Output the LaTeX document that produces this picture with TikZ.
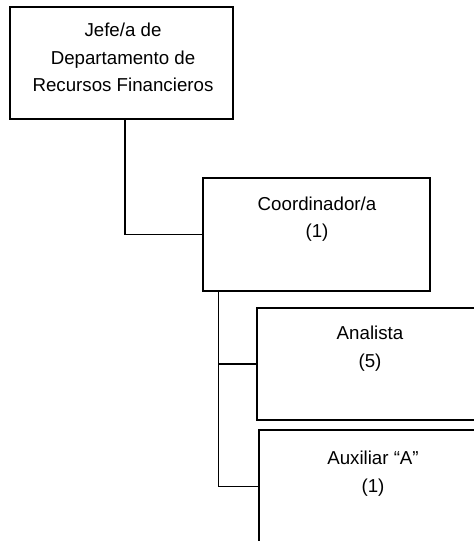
\documentclass[tikz,border=0pt]{standalone}
\usepackage{fontspec}
\setmainfont{Liberation Sans}
\begin{document}
\begin{tikzpicture}[x=1pt,y=1pt,
  box/.style={draw=black, line width=1.5pt, fill=white, rectangle, inner sep=0pt},
  lbl/.style={align=center, anchor=north, inner sep=0pt, font=\fontsize{18.7}{27.3}\selectfont},
  conn/.style={draw=black, line width=1.5pt}]
\useasboundingbox (0,0) rectangle (474,-541);
\clip (0,0) rectangle (474,-541);
\fill[white] (0,0) rectangle (474,-541);
% boxes
\node[box, minimum width=223pt, minimum height=112pt] (jefe) at (121.5,-63) {};
\node[box, minimum width=227pt, minimum height=113pt] (coord) at (316.5,-234.5) {};
\node[box, minimum width=226pt, minimum height=112pt] (anal) at (370,-364) {};
\node[box, minimum width=228pt, minimum height=113pt] (aux) at (373,-486.5) {};
% labels
\node[lbl] (tjefe) at (123,-23) {Jefe/a de\\Departamento de\\Recursos Financieros};
\node[lbl] (tcoord) at (317,-196.5) {Coordinador/a\\(1)};
\node[lbl] (tanal) at (370,-326) {Analista\\(5)};
\node[lbl] (taux) at (373,-451) {Auxiliar “A”\\(1)};
% connectors
\coordinate (j1) at ([xshift=3.5pt]jefe.south);
\draw[conn] (j1) |- (coord.west);
\coordinate (c1) at ([xshift=16pt]coord.south west);
\draw[conn] (c1) |- (aux.west);
\draw[conn] (c1 |- anal.west) -- (anal.west);
\end{tikzpicture}
\end{document}
